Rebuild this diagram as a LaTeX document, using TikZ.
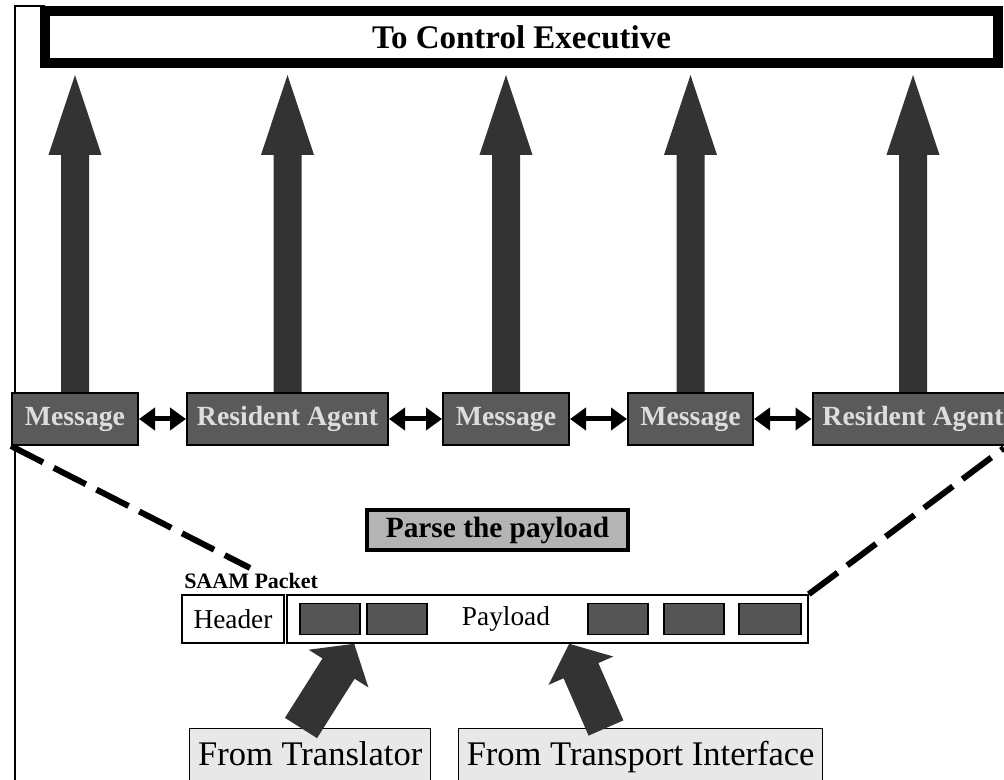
\documentclass[tikz,border=0pt]{standalone}
\usepackage{fontspec}
\setmainfont{Liberation Serif}
\usetikzlibrary{calc,arrows.meta}
\definecolor{arrowgray}{HTML}{333333}
\definecolor{rowgray}{HTML}{5A5A5A}
\definecolor{rowtext}{HTML}{DDDDDD}
\definecolor{parsegray}{HTML}{B4B4B4}
\definecolor{srcgray}{HTML}{E8E8E8}
\definecolor{chunkgray}{HTML}{555555}
\newcommand{\fatarrow}[5]{%
  \coordinate (hb) at ($(#2)!#5!(#1)$);
  \fill[arrowgray] ($(#1)!#3!90:(#2)$) -- ($(hb)!#3!90:(#2)$) -- ($(hb)!#4!90:(#2)$) -- (#2)
     -- ($(hb)!#4!-90:(#2)$) -- ($(hb)!#3!-90:(#2)$) -- ($(#1)!#3!-90:(#2)$) -- cycle;}
\tikzset{
  topbox/.style={draw, line width=7.5pt, fill=white, minimum width=714.75pt, minimum height=39pt, inner sep=0pt,
    font=\fontsize{24.75}{28}\selectfont\bfseries},
  rowbox/.style={draw, line width=1.5pt, fill=rowgray, text=rowtext, minimum height=39pt, inner sep=0pt,
    font=\fontsize{20.8}{24}\selectfont\bfseries},
  parsebox/.style={draw, line width=2.5pt, fill=parsegray, minimum width=195.75pt, minimum height=30pt, inner sep=0pt,
    font=\fontsize{22}{25}\selectfont\bfseries},
  pktbox/.style={draw, line width=1.2pt, fill=white, minimum height=36pt, inner sep=0pt,
    font=\fontsize{20.5}{23}\selectfont},
  chunk/.style={draw, line width=0.8pt, fill=chunkgray, minimum width=45pt, minimum height=23pt, inner sep=0pt},
  srcbox/.style={draw, line width=1pt, fill=srcgray, minimum height=50pt, inner sep=0pt,
    text height=0.7em, text depth=0.2em,
    anchor=north west, font=\fontsize{25.9}{29}\selectfont},
  dbl/.style={line width=3.75pt, {Triangle[length=12pt,width=16.5pt]}-{Triangle[length=12pt,width=16.5pt]}},
  dashline/.style={line width=4.5pt, dash pattern=on 27pt off 9pt},
}
\begin{document}
\begin{tikzpicture}[x=0.75pt,y=-0.75pt]
\useasboundingbox (0,0) rectangle (1004,780);
% outer frame
\draw[line width=1.5pt] (15,785) -- (15,6) -- (45,6);
% top box
\node[topbox] (top) at (521.5,37) {To Control Executive};
% row of items
\node[rowbox, minimum width=94.5pt] (msgA) at (75,419) {Message};
\node[rowbox, minimum width=150.75pt] (raA) at (287.5,419) {Resident Agent};
\node[rowbox, minimum width=94.5pt] (msgB) at (506,419) {Message};
\node[rowbox, minimum width=93.75pt] (msgC) at (690.5,419) {Message};
\node[rowbox, minimum width=150.75pt] (raB) at (913,419) {Resident Agent};
% vertical arrows
\foreach \n in {msgA,raA,msgB,msgC,raB}{
  \coordinate (tip-\n) at ($(\n.north |- top.south)+(0,7)$);
  \fatarrow{\n.north}{tip-\n}{10.5pt}{19.9pt}{60pt}
}
% double arrows
\draw[dbl] (msgA.east) -- (raA.west);
\draw[dbl] (raA.east) -- (msgB.west);
\draw[dbl] (msgB.east) -- (msgC.west);
\draw[dbl] (msgC.east) -- (raB.west);
% parse box
\node[parsebox] (parse) at (497.5,530) {Parse the payload};
% packet
\node[anchor=base west, inner sep=0pt, font=\fontsize{16.5}{18}\selectfont\bfseries] (saam) at (184,589) {SAAM Packet};
\node[pktbox, minimum width=76.5pt] (hdr) at (233,619) {Header};
\node[pktbox, minimum width=390.75pt] (pl) at (547.5,619) {};
\node[inner sep=0pt, font=\fontsize{20.5}{23}\selectfont] (pltext) at (506,619) {Payload};
\node[chunk] (s1) at (330,619) {};
\node[chunk] (s2) at (397,619) {};
\node[chunk] (s3) at (618,619) {};
\node[chunk] (s4) at (694,619) {};
\node[chunk, minimum width=46.5pt] (s5) at (770,619) {};
% dashed zoom lines
\coordinate (dl) at (250,568);
\coordinate (dr) at (1004,448);
\draw[dashline] (msgA.south west) -- (dl);
\draw[dashline] (pl.north east) -- (dr);
% sources
\node[srcbox, minimum width=180.75pt] (tr) at (189,728) {From Translator};
\node[srcbox, minimum width=273pt] (tp) at (458,728) {From Transport Interface};
% slanted arrows
\coordinate (a1s) at ($(tr.north west)+(112,0)$);
\coordinate (a1e) at ($(pl.south west)+(68,0)$);
\coordinate (a2s) at ($(tp.north west)+(148,0)$);
\coordinate (a2e) at ($(pl.south west)+(283,0)$);
\fatarrow{a1s}{a1e}{14.25pt}{26.5pt}{22pt}
\fatarrow{a2s}{a2e}{14.25pt}{26.5pt}{22pt}
\end{tikzpicture}
\end{document}
